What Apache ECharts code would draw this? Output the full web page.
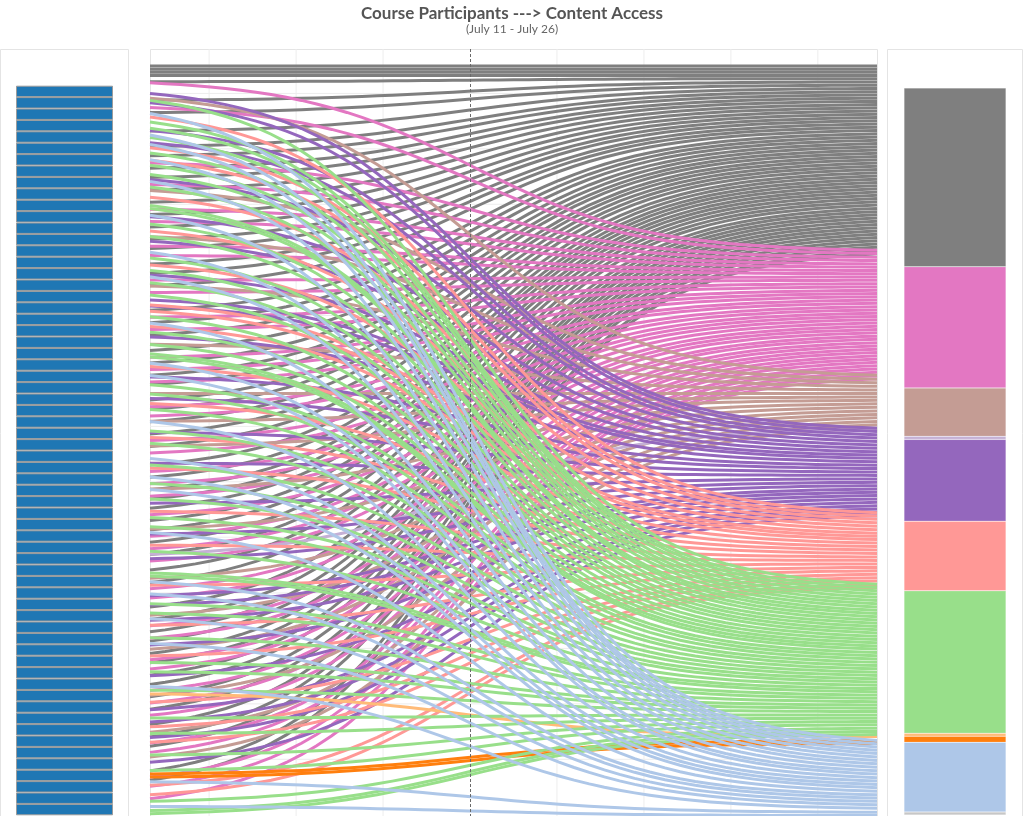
<!DOCTYPE html>
<html>
<head>
<meta charset="utf-8">
<title>Course Participants ---> Content Access</title>
<script src="https://cdn.jsdelivr.net/npm/echarts@6/dist/echarts.min.js"></script>
<style>
  html, body { margin: 0; padding: 0; background: #ffffff; }
  #chart { width: 1024px; height: 816px; }
</style>
</head>
<body>
<div id="chart"></div>
<script>
// Content groups, in the order they are stacked on the right.
const categoryKeys   = ['G', 'P', 'T', 'L', 'U', 'S', 'N', 'Y', 'O', 'B', 'Z'];
const categoryColors = ['#7f7f7f', '#e377c2', '#c49c94', '#c5b0d5', '#9467bd', '#ff9896',
                        '#98df8a', '#ffbb78', '#ff7f0e', '#aec7e8', '#c7c7c7'];
// Order in which the link colours are painted (later = on top).
const drawOrder = ['G', 'P', 'T', 'L', 'U', 'S', 'Y', 'O', 'N', 'B', 'Z'];

// One entry per participant (top to bottom); each letter is one access of a content group.
const participants = [
  'GGGGP', 'GUN', 'TUB', 'GPSN', 'GNB', 'UNB', 'GUSNB', 'GSN', 'GPNB', 'GUN',
  'GPTS', 'GNNB', 'GPUN', 'GPSN', 'GTUB', 'GPN', 'GPSNB', 'GUN', 'GPTN', 'GPUS',
  'USNB', 'GPSN', 'GPUN', 'GTNNB', 'GPSB', 'GPUN', 'GPN', 'GTUSN', 'GPB', 'GPTN',
  'GUSN', 'GPTB', 'GPN', 'USB', 'GPNB', 'GPTN', 'GPU', 'GSN', 'GPNB', 'GTU',
  'GPSN', 'GPLU', 'GPNNB', 'GTSB', 'GPUN', 'PUNB', 'GTUS', 'GPNB', 'GPU', 'GTSN',
  'GPN', 'GPUB', 'GNY', 'GPTS', 'GPUN', 'GPUSN', 'GTUS', 'GPN', 'GPTU', 'NOOB',
  'GPS', 'GPSNB', 'PN', 'NZ'
];

// Sigmoid link axis.
const X_MIN = -3.68, X_MAX = 4.68, STEPS = 48;
const Y_MIN = -5.4, Y_MAX = 238.1;
const xGridTicks = [-3, -2, -1, 1, 2, 3, 4];
const yGridTicks = [8.7, 26.3, 43.9, 61.5, 79.2, 96.8, 114.4, 132, 149.6, 167.3, 184.9, 202.5, 220.1];

// ---- build links: left row = participant order, right row = content-group order ----
const links = [];
participants.forEach((codes, pi) => {
  codes.split('').forEach(c => links.push({ p: pi, c: c, left: links.length }));
});
const totalLinks = links.length;
let rightRow = 0;
const categoryCounts = categoryKeys.map(c => {
  const group = links.filter(l => l.c === c).sort((a, b) => a.left - b.left);
  group.forEach(l => { l.right = rightRow++; });
  return group.length;
});

function renderLink(params, api) {
  const l = api.value(0), r = api.value(1);
  const pts = [];
  for (let k = 0; k <= STEPS; k++) {
    const t = X_MIN + (X_MAX - X_MIN) * k / STEPS;
    pts.push(api.coord([t, l + (r - l) / (1 + Math.exp(-t))]));
  }
  return {
    type: 'polyline',
    shape: { points: pts },
    style: { stroke: api.visual('color'), lineWidth: 3, fill: null }
  };
}

// Faint grid lines behind the links: [0, x] = vertical, [1, y] = horizontal.
function renderGrid(params, api) {
  const kind = api.value(0), v = api.value(1);
  const a = kind === 0 ? api.coord([v, Y_MIN]) : api.coord([X_MIN, v]);
  const b = kind === 0 ? api.coord([v, Y_MAX]) : api.coord([X_MAX, v]);
  return {
    type: 'line',
    shape: { x1: a[0], y1: a[1], x2: b[0], y2: b[1] },
    style: { stroke: '#ededed', lineWidth: 1 }
  };
}

const FONT = 'Lato, "Open Sans", sans-serif';
const series = [];

// Left: one equal block per participant.
participants.forEach((codes, i) => {
  series.push({
    type: 'bar', name: 'participant-' + (i + 1), xAxisIndex: 0, yAxisIndex: 0,
    stack: 'participants', barWidth: '100%', data: [1], silent: true,
    itemStyle: { color: '#1f77b4', borderColor: '#9b9b9b', borderWidth: 1 }
  });
});

// Middle: grid lines.
series.push({
  type: 'custom', name: 'grid', xAxisIndex: 1, yAxisIndex: 1, z: 1, silent: true,
  renderItem: renderGrid,
  data: xGridTicks.map(v => [0, v]).concat(yGridTicks.map(v => [1, v]))
});

// Middle: links, one series per content group.
drawOrder.forEach(c => {
  const ci = categoryKeys.indexOf(c);
  series.push({
    type: 'custom', name: 'links-' + c, xAxisIndex: 1, yAxisIndex: 1, z: 2, silent: true,
    renderItem: renderLink,
    itemStyle: { color: categoryColors[ci] },
    data: links.filter(l => l.c === c).map(l => [l.left, l.right])
  });
});

// Middle: dashed reference line at the midpoint.
series.push({
  type: 'line', xAxisIndex: 1, yAxisIndex: 1, data: [], z: 5, silent: true,
  markLine: {
    silent: true, symbol: ['none', 'none'], label: { show: false }, animation: false,
    lineStyle: { color: '#6a6a6a', width: 1, type: [3, 2] },
    data: [{ xAxis: 0 }]
  }
});

// Right: stacked content groups.
categoryKeys.forEach((c, ci) => {
  series.push({
    type: 'bar', name: 'group-' + c, xAxisIndex: 2, yAxisIndex: 2,
    stack: 'groups', barWidth: '100%', data: [categoryCounts[ci]], silent: true,
    itemStyle: { color: categoryColors[ci], borderColor: 'rgba(255,255,255,0.35)', borderWidth: 0.5 }
  });
});

const option = {
  animation: false,
  backgroundColor: '#ffffff',
  title: {
    text: 'Course Participants ---> Content Access',
    subtext: '(July 11 - July 26)',
    left: 'center', top: 0, itemGap: 1,
    textStyle: { fontFamily: FONT, fontWeight: 'bold', fontSize: 17, color: '#555555' },
    subtextStyle: { fontFamily: FONT, fontSize: 12, color: '#666666' }
  },
  graphic: [
    { type: 'rect', silent: true, z: -10, shape: { x: 0.5, y: 49.5, width: 128, height: 800 },
      style: { fill: '#ffffff', stroke: '#e4e4e4', lineWidth: 1 } },
    { type: 'rect', silent: true, z: -10, shape: { x: 150.5, y: 49.5, width: 727, height: 800 },
      style: { fill: '#ffffff', stroke: '#e4e4e4', lineWidth: 1 } },
    { type: 'rect', silent: true, z: -10, shape: { x: 887.5, y: 49.5, width: 135, height: 800 },
      style: { fill: '#ffffff', stroke: '#e4e4e4', lineWidth: 1 } }
  ],
  grid: [
    { left: 16, top: 85.7, width: 97, height: 729.6 },
    { left: 150, top: 49, width: 727, height: 767 },
    { left: 904, top: 88, width: 102, height: 727 }
  ],
  xAxis: [
    { type: 'category', gridIndex: 0, data: ['Participants'], show: false },
    { type: 'value', gridIndex: 1, min: X_MIN, max: X_MAX, show: false },
    { type: 'category', gridIndex: 2, data: ['Content'], show: false }
  ],
  yAxis: [
    { type: 'value', gridIndex: 0, min: 0, max: participants.length, inverse: true, show: false },
    { type: 'value', gridIndex: 1, min: Y_MIN, max: Y_MAX, inverse: true, show: false },
    { type: 'value', gridIndex: 2, min: 0, max: totalLinks, inverse: true, show: false }
  ],
  series: series
};

echarts.init(document.getElementById('chart'), null, { renderer: 'canvas' }).setOption(option);
</script>
</body>
</html>
